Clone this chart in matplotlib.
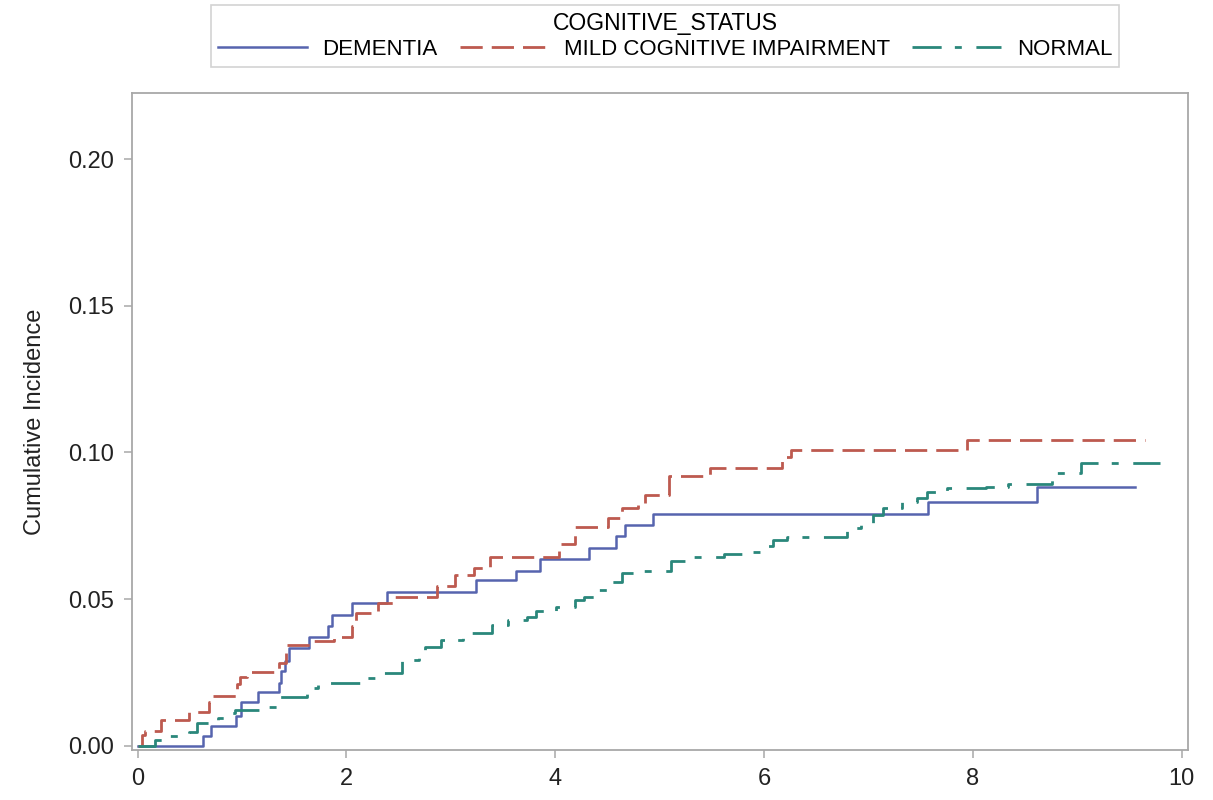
import matplotlib
matplotlib.use("Agg")
import matplotlib.pyplot as plt

plt.rcParams['font.family'] = ['Liberation Sans', 'DejaVu Sans']
plt.rcParams['lines.scale_dashes'] = False

# ---- data (step functions: event times and cumulative incidence after each step) ----
dementia_t = [0.0, 0.63, 0.70, 0.94, 0.99, 1.15, 1.35, 1.37, 1.41, 1.45, 1.64, 1.82, 1.86,
              2.05, 2.39, 3.24, 3.62, 3.85, 4.32, 4.58, 4.67, 4.94, 7.57, 8.61, 9.55]
dementia_y = [0.0, 0.0034, 0.0068, 0.0103, 0.0148, 0.0182, 0.0216, 0.0256, 0.0290, 0.0332,
              0.0370, 0.0410, 0.0446, 0.0486, 0.0524, 0.0566, 0.0597, 0.0636, 0.0674, 0.0716,
              0.0753, 0.0789, 0.0832, 0.0883, 0.0883]

mci_t = [0.0, 0.04, 0.07, 0.22, 0.49, 0.68, 0.72, 0.95, 0.98, 1.05, 1.35, 1.42, 1.67, 1.88,
         2.05, 2.09, 2.30, 2.45, 2.87, 3.04, 3.22, 3.38, 4.04, 4.19, 4.51, 4.64, 4.79, 4.86,
         5.09, 5.48, 6.17, 6.26, 7.94, 9.65]
mci_y = [0.0, 0.0038, 0.0050, 0.0089, 0.0117, 0.0151, 0.0170, 0.0210, 0.0236, 0.0253, 0.0282,
         0.0344, 0.0359, 0.0370, 0.0410, 0.0453, 0.0486, 0.0509, 0.0545, 0.0583, 0.0606,
         0.0645, 0.0688, 0.0747, 0.0776, 0.0810, 0.0828, 0.0855, 0.0920, 0.0946, 0.0985,
         0.1008, 0.1043, 0.1043]

normal_t = [0.0, 0.17, 0.28, 0.49, 0.57, 0.77, 0.89, 0.93, 1.17, 1.35, 1.62, 1.73, 2.13, 2.29,
            2.53, 2.70, 2.75, 2.91, 3.12, 3.17, 3.39, 3.55, 3.73, 3.82, 4.01, 4.19, 4.28, 4.40,
            4.54, 4.64, 4.78, 5.11, 5.24, 5.62, 5.80, 5.98, 6.09, 6.22, 6.79, 6.93, 7.04, 7.14,
            7.32, 7.46, 7.56, 7.75, 8.13, 8.34, 8.76, 8.79, 9.04, 9.79]
normal_y = [0.0, 0.0020, 0.0035, 0.0049, 0.0077, 0.0094, 0.0112, 0.0124, 0.0134, 0.0168,
            0.0197, 0.0216, 0.0230, 0.0248, 0.0293, 0.0304, 0.0336, 0.0361, 0.0370, 0.0386,
            0.0412, 0.0429, 0.0440, 0.0458, 0.0475, 0.0497, 0.0509, 0.0530, 0.0560, 0.0590,
            0.0597, 0.0631, 0.0645, 0.0654, 0.0662, 0.0681, 0.0702, 0.0713, 0.0742, 0.0761,
            0.0787, 0.0810, 0.0832, 0.0844, 0.0866, 0.0878, 0.0883, 0.0893, 0.0910, 0.0930,
            0.0963, 0.0963]

labels = ["DEMENTIA", "MILD COGNITIVE IMPAIRMENT", "NORMAL"]
x_ticks = [0, 2, 4, 6, 8, 10]
y_ticks = [0.00, 0.05, 0.10, 0.15, 0.20]

colors = ["#5664AE", "#BD5A4F", "#2A877B"]

fig = plt.figure(figsize=(12.13, 8.0), dpi=100)
ax = fig.add_axes([132/1213, 1-750/800, (1188-132)/1213, (750-93)/800])

ax.step(dementia_t, dementia_y, where='post', color=colors[0], lw=1.8, label=labels[0])
ax.step(mci_t, mci_y, where='post', color=colors[1], lw=2.0, label=labels[1],
        dashes=(16, 6.5))
ax.step(normal_t, normal_y, where='post', color=colors[2], lw=2.0, label=labels[2],
        dashes=(21, 9.5, 5, 10.5))

ax.set_xlim(-0.053, 10.06)
ax.set_ylim(-0.0014, 0.2225)
ax.set_xticks(x_ticks)
ax.set_xticklabels([str(v) for v in x_ticks])
ax.set_yticks(y_ticks)
ax.set_yticklabels([f"{v:.2f}" for v in y_ticks])

grey = "#A8A8A8"
for s in ax.spines.values():
    s.set_color(grey)
    s.set_linewidth(1.3)
ax.tick_params(axis='both', direction='out', length=6, width=1.1, color=grey,
               labelsize=17, labelcolor="#222222", pad=7)
ax.set_ylabel("Cumulative Incidence", fontsize=17, color="#222222", labelpad=16)

leg = fig.legend(loc='upper center', bbox_to_anchor=(665/1213, 1-5/800), ncol=3,
                 title="COGNITIVE_STATUS", fontsize=16, title_fontsize=16.5,
                 frameon=True, fancybox=False, edgecolor="#C8C8C8",
                 handlelength=4.0, handletextpad=0.7, columnspacing=1.0,
                 borderpad=0.3, labelspacing=0.2, borderaxespad=0.0)
leg.get_frame().set_linewidth(1.2)

fig.savefig("out.png", dpi=100)
